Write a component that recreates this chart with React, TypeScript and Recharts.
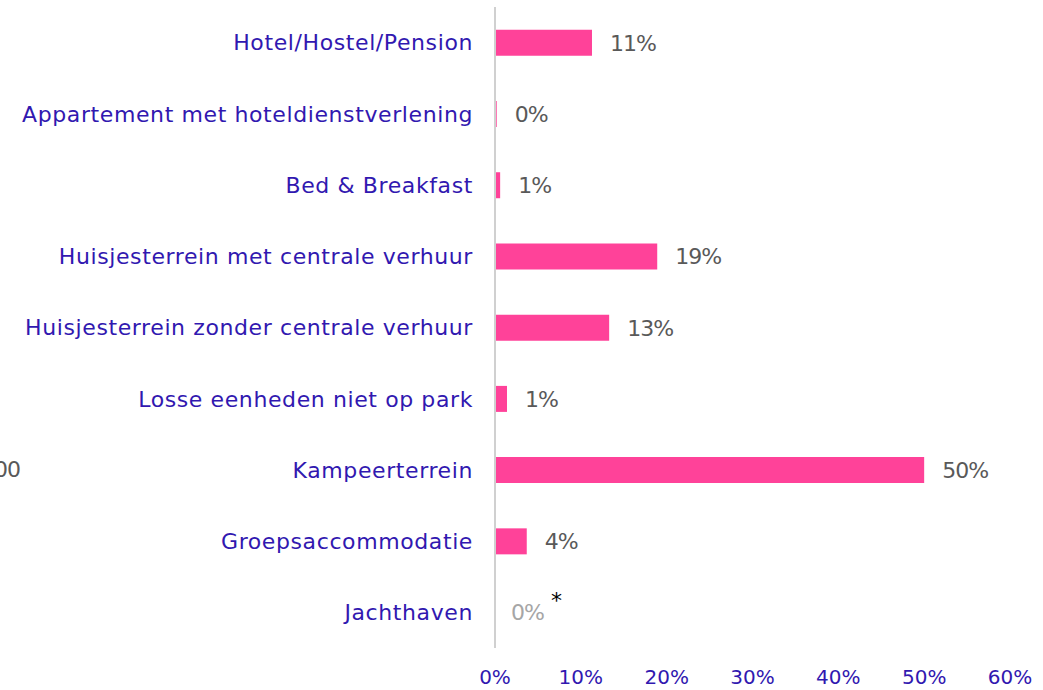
import React from "react";
import {
  BarChart,
  Bar,
  XAxis,
  YAxis,
  LabelList,
  ReferenceDot,
} from "recharts";

const categories = [
  "Hotel/Hostel/Pension",
  "Appartement met hoteldienstverlening",
  "Bed & Breakfast",
  "Huisjesterrein met centrale verhuur",
  "Huisjesterrein zonder centrale verhuur",
  "Losse eenheden niet op park",
  "Kampeerterrein",
  "Groepsaccommodatie",
  "Jachthaven",
];
const shares = [11.3, 0.2, 0.6, 18.9, 13.3, 1.4, 50.0, 3.7, 0];
const shareLabels = ["11%", "0%", "1%", "19%", "13%", "1%", "50%", "4%", "0%"];
const notes = ["", "", "", "", "", "", "", "", "*"];
const xTicks = [0, 10, 20, 30, 40, 50, 60];

const FONT = "'DejaVu Sans', sans-serif";
const PINK = "#FF4299";
const BLUE = "#3118B0";

const data = categories.map((name, i) => ({
  name,
  value: shares[i],
  label: shareLabels[i],
  note: notes[i],
}));

// rows with a note and no bar get their label from a ReferenceDot
const noteData = data.filter((d) => d.value === 0 && d.note);

function ValueLabel(props: any) {
  const { x, y, width, height, value } = props;
  return (
    <text
      x={x + width + 18}
      y={y + height / 2}
      dy="0.36em"
      fill="#595959"
      fontSize={22}
      letterSpacing={-1}
      fontFamily={FONT}
    >
      {value}
    </text>
  );
}

function NoteLabel({ viewBox, label, note }: any) {
  const cx = viewBox.x;
  const cy = viewBox.y;
  return (
    <g>
      <text
        x={cx + 16}
        y={cy}
        dy="0.36em"
        fill="#A6A6A6"
        fontSize={22}
        letterSpacing={-1}
        fontFamily={FONT}
      >
        {label}
      </text>
      <text x={cx + 56} y={cy - 4} fill="#000" fontSize={22} fontFamily={FONT}>
        {note}
      </text>
    </g>
  );
}

export default function App() {
  return (
    <div style={{ position: "absolute", left: 0, top: 0, width: 1043, height: 690, background: "#fff" }}>
      <div
        style={{
          position: "absolute",
          left: -6,
          top: 457,
          fontFamily: FONT,
          fontSize: 22,
          letterSpacing: -1,
          color: "#595959",
        }}
      >
        00
      </div>
      <BarChart
        width={1043}
        height={690}
        data={data}
        layout="vertical"
        margin={{ top: 7, right: 33, bottom: 0, left: 0 }}
        barCategoryGap="32%"
      >
        <XAxis
          type="number"
          domain={[0, 60]}
          ticks={xTicks}
          tickFormatter={(v: number) => `${v}%`}
          axisLine={false}
          tickLine={false}
          tickSize={0}
          tickMargin={22}
          height={42}
          interval={0}
          tick={{ fill: BLUE, fontSize: 20, fontFamily: FONT }}
        />
        <YAxis
          type="category"
          dataKey="name"
          width={495}
          axisLine={{ stroke: "#D0D0D0", strokeWidth: 2 }}
          tickLine={false}
          tickSize={0}
          tickMargin={22}
          interval={0}
          tick={{ fill: BLUE, fontSize: 22, fontFamily: FONT, letterSpacing: 0.6 }}
        />
        <Bar dataKey="value" fill={PINK} isAnimationActive={false}>
          <LabelList
            dataKey="label"
            content={(p: any) =>
              data[p.index] && data[p.index].value === 0 && data[p.index].note ? null : (
                <ValueLabel {...p} />
              )
            }
          />
        </Bar>
        {noteData.map((d) => (
          <ReferenceDot
            key={d.name}
            x={d.value}
            y={d.name}
            r={0}
            fill="none"
            stroke="none"
            ifOverflow="visible"
            label={(p: any) => <NoteLabel {...p} label={d.label} note={d.note} />}
          />
        ))}
      </BarChart>
    </div>
  );
}
